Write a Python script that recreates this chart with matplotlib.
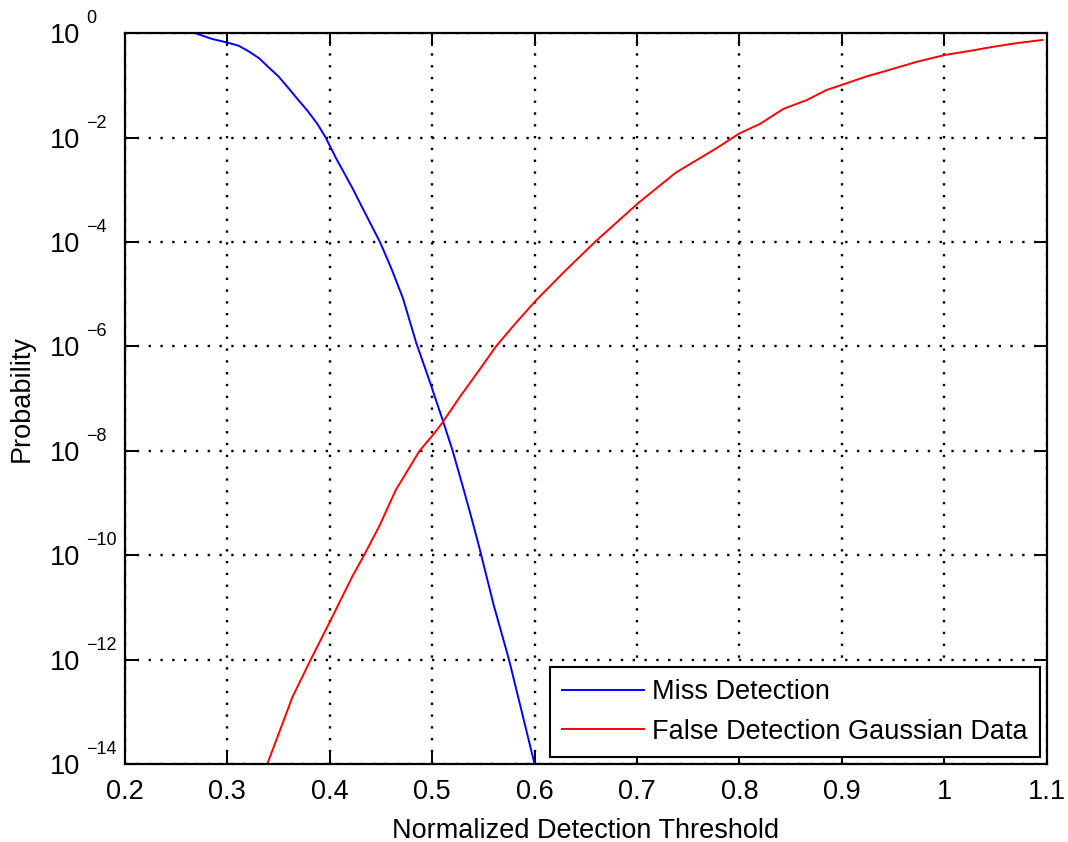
import numpy as np
import matplotlib
matplotlib.use("Agg")
import matplotlib.pyplot as plt
from matplotlib.ticker import FixedLocator, FuncFormatter, NullLocator, NullFormatter

# threshold values and log10 of the probabilities
miss_x = [0.27, 0.285, 0.30, 0.311, 0.321, 0.331, 0.339, 0.35, 0.36, 0.368,
          0.378, 0.388, 0.396, 0.406, 0.413, 0.423, 0.4325, 0.449, 0.46,
          0.4715, 0.4844, 0.4974, 0.5104, 0.52, 0.53, 0.539, 0.546, 0.56,
          0.575, 0.60]
miss_log = [-0.01, -0.11, -0.18, -0.24, -0.35, -0.48, -0.63, -0.83, -1.06, -1.25,
            -1.48, -1.74, -2.0, -2.39, -2.64, -3.0, -3.37, -4.0, -4.5,
            -5.08, -5.93, -6.66, -7.42, -8.0, -8.69, -9.33, -9.85, -10.95,
            -12.0, -14.0]

false_x = [0.339, 0.3635, 0.3814, 0.401, 0.4222, 0.4335, 0.4482, 0.4645, 0.4877,
           0.5006, 0.5104, 0.5266, 0.5461, 0.5623, 0.5818, 0.6013, 0.63, 0.660,
           0.7015, 0.738, 0.778, 0.80, 0.82, 0.843, 0.866, 0.885, 0.90, 0.924,
           0.947, 0.973, 1.0, 1.025, 1.048, 1.071, 1.096]
false_log = [-14.0, -12.72, -12.0, -11.24, -10.4, -10.0, -9.45, -8.75, -8.0,
             -7.70, -7.45, -6.98, -6.45, -6.0, -5.55, -5.12, -4.55, -3.98,
             -3.25, -2.67, -2.20, -1.92, -1.74, -1.45, -1.28, -1.09, -0.99, -0.83,
             -0.70, -0.55, -0.42, -0.34, -0.26, -0.19, -0.13]

x_ticks = [0.2, 0.3, 0.4, 0.5, 0.6, 0.7, 0.8, 0.9, 1.0, 1.1]
y_exps = [0, -2, -4, -6, -8, -10, -12, -14]

plt.rcParams['font.family'] = ['Liberation Sans', 'DejaVu Sans']

FS = 19.5

fig = plt.figure(figsize=(10.68, 8.42), dpi=100)
ax = fig.add_axes([0.117, 0.0926, 0.863, 0.868])

ax.plot(miss_x, 10.0 ** np.array(miss_log), color=(0, 0, 1), linewidth=1.4,
        label='Miss Detection')
ax.plot(false_x, 10.0 ** np.array(false_log), color=(1, 0, 0), linewidth=1.4,
        label='False Detection Gaussian Data')

ax.set_yscale('log')
ax.set_xlim(0.2, 1.1)
ax.set_ylim(1e-14, 1e0)

ax.xaxis.set_major_locator(FixedLocator(x_ticks))
ax.xaxis.set_major_formatter(FuncFormatter(lambda v, p: f"{v:g}"))
ax.yaxis.set_major_locator(FixedLocator([10.0 ** e for e in y_exps]))
ax.yaxis.set_major_formatter(NullFormatter())
ax.yaxis.set_minor_locator(NullLocator())
ax.xaxis.set_minor_locator(NullLocator())

ax.tick_params(which='major', direction='in', length=9, width=1.4,
               top=True, right=True, labelsize=FS, pad=11, colors='black')
for sp in ax.spines.values():
    sp.set_linewidth(1.6)

# y labels drawn as "10" with a raised exponent
for e in y_exps:
    ax.annotate('10', xy=(0, 10.0 ** e), xycoords=('axes fraction', 'data'),
                xytext=(-45, -10), textcoords='offset pixels',
                ha='right', va='baseline', fontsize=FS)
    ax.annotate(str(e).replace('-', '\u2212'), xy=(0, 10.0 ** e),
                xycoords=('axes fraction', 'data'),
                xytext=(-39, 10), textcoords='offset pixels',
                ha='left', va='baseline', fontsize=13)

ax.grid(True, which='major', color='black', linestyle=(0, (1, 4)),
        linewidth=1.7)

ax.set_xlabel('Normalized Detection Threshold', fontsize=FS, labelpad=9)
ax.set_ylabel('Probability', fontsize=FS)
ax.yaxis.set_label_coords(-0.098, 0.5)

leg = ax.legend(loc='lower right', bbox_to_anchor=(0.9924, 0.0096),
                borderaxespad=0, fontsize=FS, fancybox=False, framealpha=1,
                edgecolor='black', handlelength=3.0, handletextpad=0.3,
                labelspacing=0.5, borderpad=0.45)
leg.get_frame().set_linewidth(1.5)

plt.savefig('out.png', dpi=100)
